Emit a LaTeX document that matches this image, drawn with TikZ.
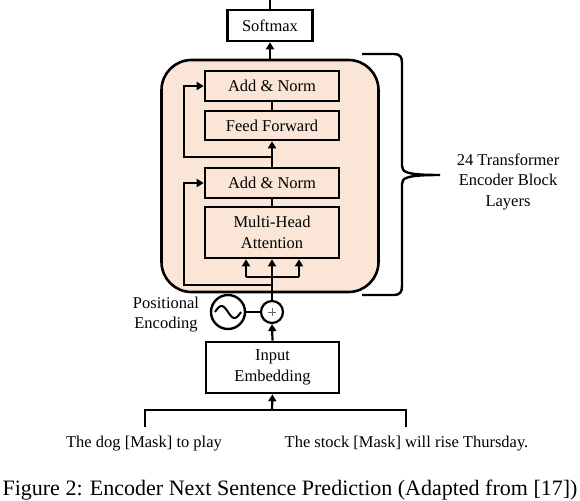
\documentclass[tikz,border=0pt]{standalone}
\usepackage{fontspec}
\setmainfont{Liberation Serif}
\usetikzlibrary{arrows.meta}
\definecolor{peach}{HTML}{FBE5D6}
\newcommand\bodyfont{\fontsize{16.5}{20.5}\selectfont}
\begin{document}
\begin{tikzpicture}[x=1pt,y=-1pt,
  box/.style={draw=black,line width=2.6pt,inner sep=0pt,font=\bodyfont,align=center},
  layer/.style={box,fill=peach,minimum width=134pt},
  conn/.style={line width=2.2pt},
  arr/.style={conn,-{Triangle[length=7pt,width=8pt]}},
  lbl/.style={font=\bodyfont,align=center,inner sep=0pt}]
\useasboundingbox (0,0) rectangle (580,500);
% encoder block
\node[draw=black,line width=2.6pt,fill=peach,rounded corners=30pt,minimum width=217pt,minimum height=232pt,inner sep=0pt] (block) at (270,176) {};
\node[box,fill=white,minimum width=85pt,minimum height=31pt] (softmax) at (270,25.5) {Softmax};
\node[layer,minimum height=30pt] (an2) at (272,86) {Add \& Norm};
\node[layer,minimum height=29pt] (ff) at (272,125.5) {Feed Forward};
\node[layer,minimum height=30pt] (an1) at (272,183) {Add \& Norm};
\node[layer,minimum height=51pt] (mha) at (272,232.5) {Multi-Head\\Attention};
\node[box,fill=white,minimum width=133pt,minimum height=51pt] (emb) at (272.5,367.5) {Input\\Embedding};
\node[circle,draw=black,line width=2.2pt,minimum size=22pt,inner sep=0pt] (plus) at (272,312) {};
\node[circle,draw=black,line width=2.4pt,minimum size=34pt,inner sep=0pt] (sine) at (228,312) {};
\draw[line width=0.5pt,black!60] ([xshift=-4pt]plus.center) -- ([xshift=4pt]plus.center)
  ([yshift=-4pt]plus.center) -- ([yshift=4pt]plus.center);
\draw[line width=2pt,shift={(sine.center)}] plot[domain=-13:13,samples=40,smooth] (\x,{-6*sin((\x+13)/26*360)});
\node[lbl] (pe) at (166,314.5) {Positional\\Encoding};
% coordinates
\coordinate (top) at (270,0);
\coordinate (r2b) at (272,157);
\coordinate (r2c) at (184,157);
\coordinate (r1b) at (272,285);
\coordinate (r1c) at (184,285);
\coordinate (split) at (272,277);
\coordinate (sl) at (246,277);
\coordinate (sr) at (299,277);
\coordinate (bl) at (145,410);
\coordinate (br) at (406,410);
\coordinate (bm) at (272,410);
\coordinate (bld) at (145,427);
\coordinate (brd) at (406,427);
% connectors
\draw[conn] (softmax.north) -- (top);
\draw[arr] (block.north) -- (softmax.south);
\draw[conn] (ff.north) -- (an2.south);
\draw[arr] (an1.north) -- (ff.south);
\draw[arr] (r2b) -- (r2c) |- (an2.west);
\draw[conn] (mha.north) -- (an1.south);
\draw[arr] (r1b) -- (r1c) |- (an1.west);
\draw[conn] (plus.north) -- (split);
\draw[conn] (sl) -- (sr);
\draw[arr] (split) -- (mha.south);
\draw[arr] (sl) -- (sl |- mha.south);
\draw[arr] (sr) -- (sr |- mha.south);
\draw[conn] (sine.east) -- (plus.west);
\draw[arr] (emb.north) -- (plus.south);
\draw[conn] (bld) -- (bl) -- (br) -- (brd);
\draw[arr] (bm) -- (emb.south);
% brace
\coordinate (tip) at (440,175);
\draw[line width=2.4pt] (362,54) -- (394,54) .. controls (400,54) and (402,57) .. (402,63) -- (402,166)
  .. controls (402,172) and (406,175) .. (tip) .. controls (406,175) and (402,178) .. (402,184)
  -- (402,286) .. controls (402,292) and (400,295) .. (394,295) -- (362,295);
\node[lbl] (blk) at (508,181.5) {24 Transformer\\Encoder Block\\Layers};
% sentences
\node[lbl] (s1) at (144,444) {The dog [Mask] to play};
\node[lbl] (s2) at (406.5,444) {The stock [Mask] will rise Thursday.};
\node[lbl,font=\fontsize{22}{26}\selectfont] (cap) at (290,490) {Figure 2: Encoder Next Sentence Prediction (Adapted from [17])};
\end{tikzpicture}
\end{document}
